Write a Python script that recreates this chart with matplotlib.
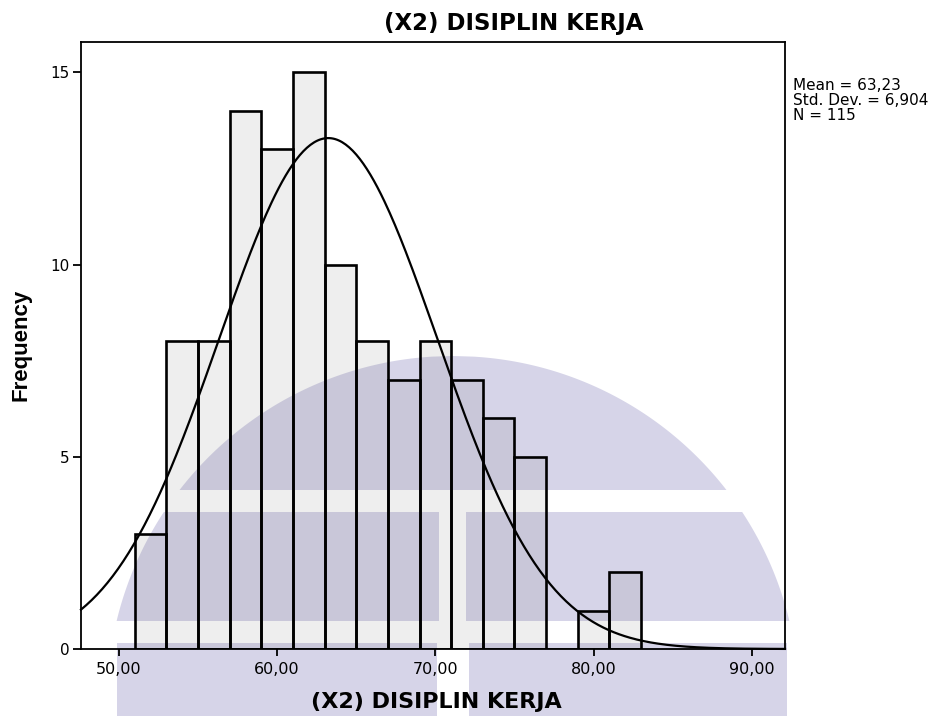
import numpy as np
import matplotlib
matplotlib.use("Agg")
import matplotlib.pyplot as plt
from matplotlib.patches import Polygon

# Histogram of (X2) DISIPLIN KERJA, bin width 2
bin_edges = [51, 53, 55, 57, 59, 61, 63, 65, 67, 69, 71, 73, 75, 77, 79, 81, 83]
frequencies = [3, 8, 8, 14, 13, 15, 10, 8, 7, 8, 7, 6, 5, 0, 1, 2]

mean_value = 63.23
std_dev = 6.904
n_cases = 115

x_ticks = [50, 60, 70, 80, 90]
x_tick_labels = ["50,00", "60,00", "70,00", "80,00", "90,00"]
y_ticks = [0, 5, 10, 15]

title_text = "(X2) DISIPLIN KERJA"
x_label = "(X2) DISIPLIN KERJA"
y_label = "Frequency"
stats_lines = ["Mean = 63,23", "Std. Dev. = 6,904", "N = 115"]

W, H = 939, 716
fig = plt.figure(figsize=(W / 100, H / 100), dpi=100)
fig.patch.set_facecolor("white")


def px(x, y):
    """pixel (from top-left) -> figure fraction"""
    return x / W, 1 - y / H


# light background emblem: a disc cut by white stripes
cx, cy, r = 453.0, 702.0, 346.0
emblem_color = "#d6d4e8"


def disc_band(y0, y1, xmin=-1e9, xmax=1e9):
    ys = np.linspace(max(y0, cy - r), y1, 200)
    hw = np.sqrt(np.clip(r ** 2 - (cy - ys) ** 2, 0, None))
    left = np.clip(cx - hw, xmin, xmax)
    right = np.clip(cx + hw, xmin, xmax)
    pts = [px(x, y) for x, y in zip(left, ys)]
    pts += [px(x, y) for x, y in zip(right[::-1], ys[::-1])]
    return pts


bands = [
    disc_band(356, 490),
    disc_band(512, 621, xmax=439),
    disc_band(512, 621, xmin=466),
    disc_band(643, 716, xmin=117, xmax=437),
    disc_band(643, 716, xmin=469, xmax=787),
]
for pts in bands:
    fig.patches.append(Polygon(pts, closed=True, transform=fig.transFigure,
                               facecolor=emblem_color, edgecolor="none",
                               zorder=-5))

ax = fig.add_axes([81 / W, 1 - 649 / H, (785 - 81) / W, (649 - 42) / H])
ax.set_facecolor("none")

edges = np.array(bin_edges, dtype=float)
widths = np.diff(edges)
ax.bar(edges[:-1], frequencies, width=widths, align="edge",
       facecolor=(0.35, 0.35, 0.35, 0.10), edgecolor="black",
       linewidth=1.9, zorder=2)

# fitted normal curve scaled to counts
xlim = (47.6, 92.1)
xs = np.linspace(xlim[0], xlim[1], 400)
bw = widths[0]
ys = n_cases * bw * np.exp(-0.5 * ((xs - mean_value) / std_dev) ** 2) / (std_dev * np.sqrt(2 * np.pi))
ax.plot(xs, ys, color="black", linewidth=1.6, zorder=3, clip_on=False)

ax.set_xlim(*xlim)
ax.set_ylim(0, 15.79)
ax.set_xticks(x_ticks)
ax.set_xticklabels(x_tick_labels, fontsize=11.5, family="DejaVu Sans")
ax.set_yticks(y_ticks)
ax.set_yticklabels([str(v) for v in y_ticks], fontsize=11, family="DejaVu Sans")
ax.tick_params(axis="x", direction="out", length=5, width=1.3, pad=4)
ax.tick_params(axis="y", direction="out", length=6, width=1.3, pad=2)
for s in ax.spines.values():
    s.set_linewidth(1.3)
    s.set_color("black")

fig.text(*px(514, 30), title_text, ha="center", va="baseline",
         fontsize=16.5, fontweight="bold", family="DejaVu Sans")
fig.text(*px(436, 708), x_label, ha="center", va="baseline",
         fontsize=16, fontweight="bold", family="DejaVu Sans")
fig.text(*px(21, 345), y_label, ha="center", va="center", rotation=90,
         fontsize=16, fontweight="bold", family="Liberation Sans")

for i, line in enumerate(stats_lines):
    fig.text(*px(793, 90 + 15 * i), line, ha="left", va="baseline",
             fontsize=11, family="DejaVu Sans")

fig.savefig("out.png", dpi=100, facecolor="white")
